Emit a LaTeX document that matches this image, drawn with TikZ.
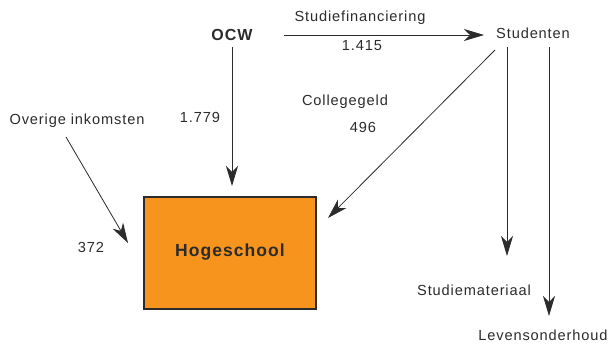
\documentclass[tikz,border=0pt]{standalone}
\usepackage{fontspec}
\setmainfont{Liberation Sans}[LetterSpace=6]
\usetikzlibrary{arrows.meta}
\definecolor{ink}{HTML}{2B2B2B}
\definecolor{orangebox}{HTML}{F7941D}
\begin{document}
\begin{tikzpicture}[x=1pt,y=-1pt,
  lbl/.style={font=\fontsize{14.6}{16}\selectfont, text=ink, inner sep=0pt},
  flow/.style={draw=ink, line width=0.8pt, -{Stealth[length=20pt,width=12pt,inset=6pt]}},
  boxstyle/.style={draw=ink, line width=2pt, fill=orangebox, minimum width=172pt, minimum height=112pt, inner sep=0pt}]
\useasboundingbox (0,0) rectangle (608,343);
\node[lbl, font=\fontsize{16}{18}\selectfont\bfseries] (ocw) at (232,35) {OCW};
\node[lbl] (stud) at (533,33) {Studenten};
\node[boxstyle] (hs) at (230,253) {};
\node[lbl, font=\fontsize{17.5}{19}\selectfont\bfseries] (hslbl) at (230,252) {Hogeschool};
\node[lbl] (ov) at (77,121) {Overige inkomsten};
\node[lbl] (sm) at (474,290) {Studiemateriaal};
\node[lbl] (lo) at (543,335) {Levensonderhoud};
\node[lbl] (sf) at (360,18) {Studiefinanciering};
\node[lbl] (n1415) at (362,46) {1.415};
\node[lbl] (n1779) at (200,117) {1.779};
\node[lbl] (cg) at (345,102) {Collegegeld};
\node[lbl] (n496) at (363,127) {496};
\node[lbl] (n372) at (91,247) {372};
\coordinate (sfa) at (284,35);
\coordinate (sfb) at (484,35);
\coordinate (oa) at (232,47);
\coordinate (ob) at (232,186);
\coordinate (ova) at (66,137);
\coordinate (ovb) at (128,243);
\coordinate (cga) at (495,50);
\coordinate (cgb) at (328,218);
\coordinate (sma) at (507,47);
\coordinate (smb) at (507,256);
\coordinate (loa) at (549,47);
\coordinate (lob) at (549,316);
\draw[flow] (sfa) -- (sfb);
\draw[flow] (oa) -- (ob);
\draw[flow] (ova) -- (ovb);
\draw[flow] (cga) -- (cgb);
\draw[flow] (sma) -- (smb);
\draw[flow] (loa) -- (lob);
\end{tikzpicture}
\end{document}
